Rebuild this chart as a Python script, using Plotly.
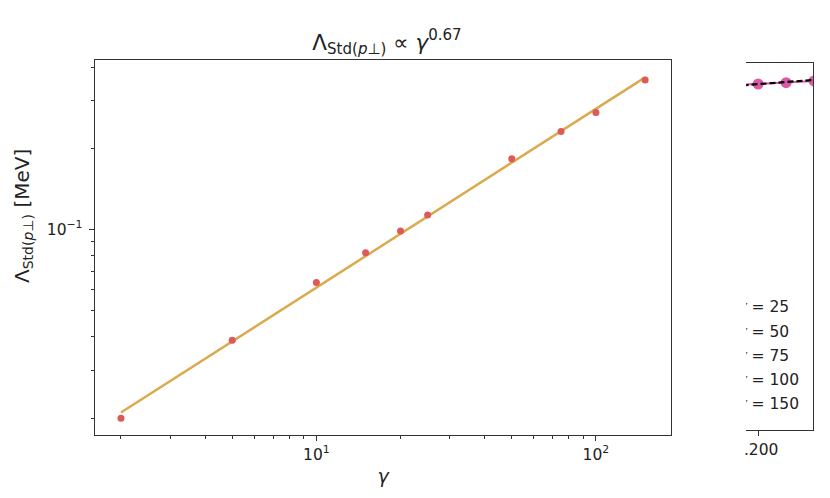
import plotly.graph_objects as go

# ---- main panel data ----
gamma = [2, 5, 10, 15, 20, 25, 50, 75, 100, 150]
lam_std = [0.0200, 0.0389, 0.0637, 0.0820, 0.0988, 0.1131, 0.1828, 0.2310, 0.2716, 0.3578]
fit_gamma = [2, 150]
fit_vals = [0.0210, 0.366]

y_major = [0.1]
y_major_text = ["10<sup>−1</sup>"]
y_minor = [0.02, 0.03, 0.04, 0.05, 0.06, 0.07, 0.08, 0.09, 0.2, 0.3, 0.4]
x_major = [10, 100]
x_major_text = ["10<sup>1</sup>", "10<sup>2</sup>"]
x_minor = [2, 3, 4, 5, 6, 7, 8, 9, 20, 30, 40, 50, 60, 70, 80, 90]

# ---- right (partially hidden) panel data ----
r_x = [0.175, 0.200, 0.225, 0.250]
r_y = [0.939, 0.9428, 0.9463, 0.951]
r_fit_x = [0.17, 0.26]
r_fit_y = [0.9356, 0.9562]
r_tick = [0.200]
r_tick_text = [".200"]
legend_labels = ["<i>γ</i> = 25", "<i>γ</i> = 50", "<i>γ</i> = 75",
                 "<i>γ</i> = 100", "<i>γ</i> = 150"]
legend_rows = [0.3316, 0.2651, 0.1997, 0.1343, 0.0681]

FONT = "DejaVu Sans"
AX = "#333333"
TXT = "#222222"
W, H = 830, 498

fig = go.Figure()
fig.add_trace(go.Scatter(x=fit_gamma, y=fit_vals, mode="lines",
                         line=dict(color="#dcaa4e", width=2.5), showlegend=False))
fig.add_trace(go.Scatter(x=gamma, y=lam_std, mode="markers",
                         marker=dict(color="#dd5a55", size=7), showlegend=False))

# right panel
fig.add_trace(go.Scatter(x=r_x, y=r_y, mode="lines+markers", xaxis="x2", yaxis="y2",
                         line=dict(color="#dc5aa8", width=2),
                         marker=dict(color="#dc5aa8", size=11), cliponaxis=True,
                         showlegend=False))
fig.add_trace(go.Scatter(x=r_fit_x, y=r_fit_y, mode="lines", xaxis="x2", yaxis="y2",
                         line=dict(color="black", width=2.2, dash="6px,3px"),
                         showlegend=False))
fig.add_trace(go.Scatter(x=[0.1815] * len(legend_labels), y=legend_rows, mode="text",
                         text=legend_labels, textposition="middle right",
                         textfont=dict(family=FONT, size=15.5, color=TXT),
                         xaxis="x2", yaxis="y2", cliponaxis=True, showlegend=False))

fig.update_layout(
    width=W, height=H,
    margin=dict(l=0, r=0, t=0, b=0),
    paper_bgcolor="white", plot_bgcolor="white",
    font=dict(family=FONT, size=15.5, color=TXT),
    title=dict(text="Λ<sub>Std(<i>p</i>⊥)</sub> ∝ <i>γ</i><sup>0.67</sup>",
               x=387 / W, xanchor="center", y=1 - 42 / H, yanchor="middle",
               font=dict(family=FONT, size=21.5, color=TXT)),
    xaxis=dict(type="log", domain=[93 / W, 671 / W], range=[0.2073, 2.2699],
               showgrid=False, zeroline=False, showline=True, mirror=True,
               linecolor=AX, linewidth=1.3,
               tickvals=x_major, ticktext=x_major_text, ticks="outside",
               ticklen=5, tickwidth=1.2, tickcolor=AX,
               minor=dict(tickvals=x_minor, ticks="outside", ticklen=3,
                          tickwidth=1, tickcolor=AX),
               title=dict(text="<i>γ</i>", standoff=6, font=dict(size=19)),
               anchor="y"),
    yaxis=dict(type="log", domain=[1 - 435 / H, 1 - 60 / H], range=[-1.761, -0.372],
               showgrid=False, zeroline=False, showline=True, mirror=True,
               linecolor=AX, linewidth=1.3,
               tickvals=y_major, ticktext=y_major_text, ticks="outside",
               ticklen=5, tickwidth=1.2, tickcolor=AX, ticklabelstandoff=3,
               minor=dict(tickvals=y_minor, ticks="outside", ticklen=3,
                          tickwidth=1, tickcolor=AX),
               anchor="x"),
    xaxis2=dict(domain=[746 / W, 813 / W], range=[0.1893, 0.2491],
                showgrid=False, zeroline=False, showline=True, mirror=True,
                linecolor=AX, linewidth=1.3, tickvals=r_tick, ticktext=r_tick_text,
                ticks="outside", ticklen=5, tickwidth=1.2, tickcolor=AX,
                ticklabelshift=3, anchor="y2"),
    yaxis2=dict(domain=[1 - 430 / H, 1 - 63 / H], range=[0, 1], side="right",
                showgrid=False, zeroline=False, showline=True, mirror=False,
                linecolor=AX, linewidth=1.3, showticklabels=False, ticks="",
                anchor="x2"),
)

# y-axis label (placed as in the reference, slightly above the axis centre)
fig.add_annotation(text="Λ<sub>Std(<i>p</i>⊥)</sub> [MeV]", textangle=-90,
                   xref="paper", yref="paper", x=21 / W, y=1 - 216 / H,
                   xanchor="center", yanchor="middle", showarrow=False,
                   font=dict(family=FONT, size=20, color=TXT))

fig.write_html("out.html", config={"displayModeBar": False},
               post_script="document.body.style.margin='0';document.body.style.overflow='hidden';")
